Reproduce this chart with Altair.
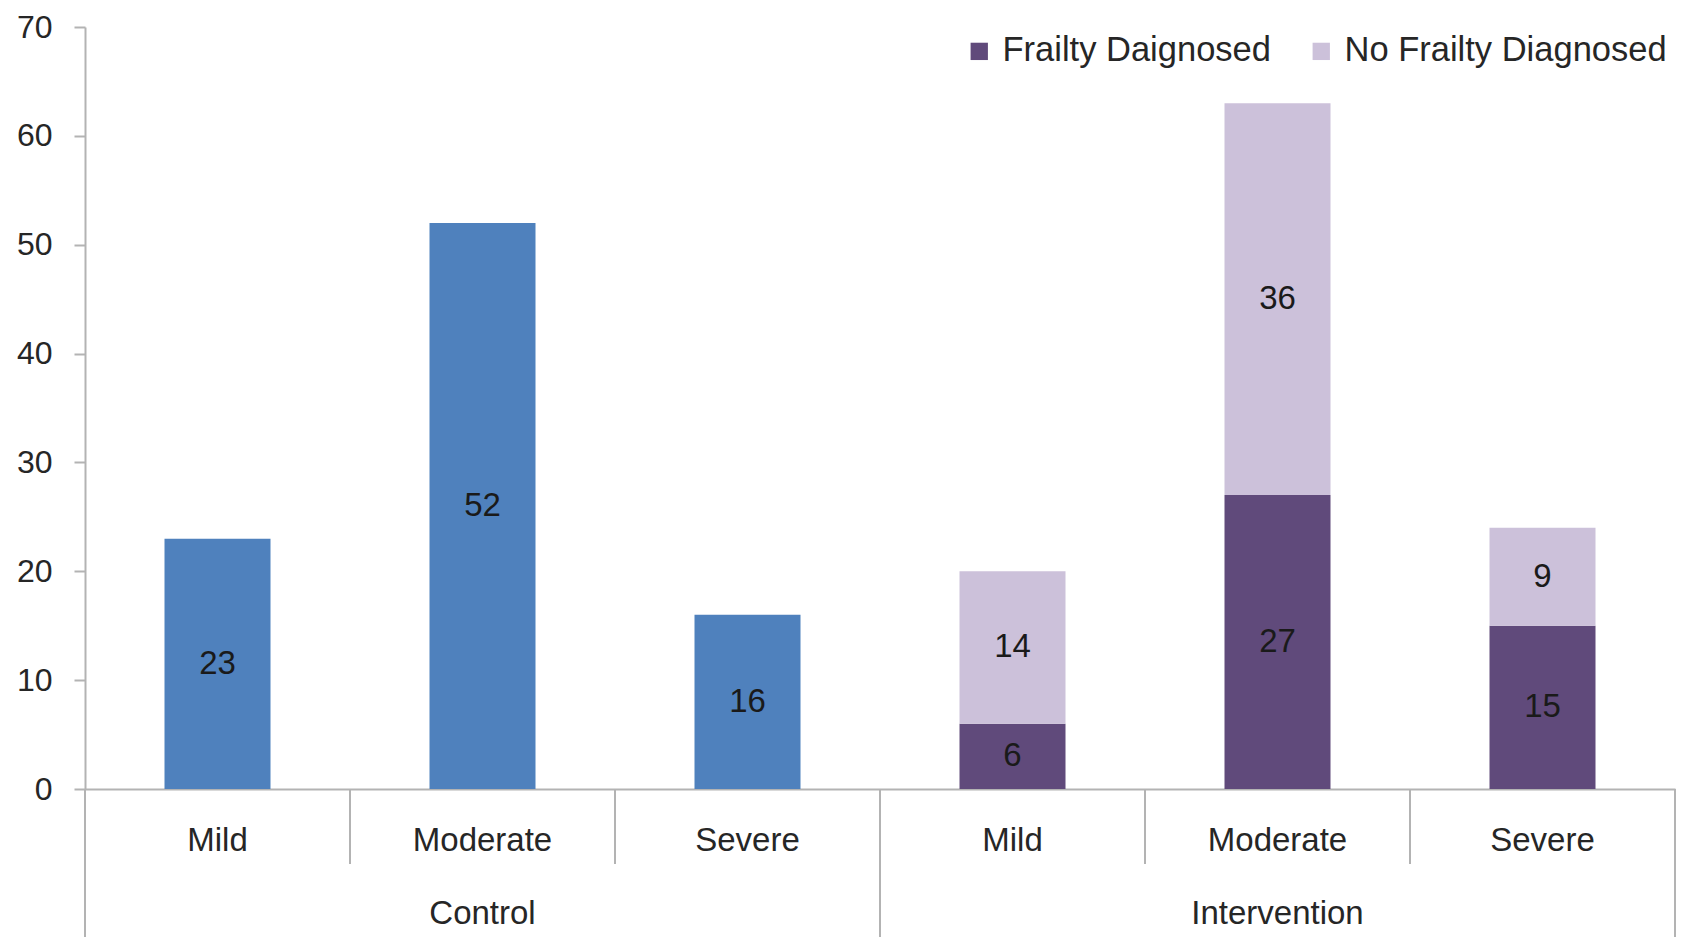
import altair as alt
import pandas as pd

FONT = "Liberation Sans"

groups = ["Control", "Intervention"]
severity = ["Mild", "Moderate", "Severe"]
series_names = ["Frailty Daignosed", "No Frailty Diagnosed"]
control_values = [23, 52, 16]
frailty_values = [6, 27, 15]
no_frailty_values = [14, 36, 9]

rows = []
for s, v in zip(severity, control_values):
    rows.append({"key": f"Control|{s}", "series": "Control", "ord": 0, "value": v})
for s, v in zip(severity, frailty_values):
    rows.append({"key": f"Intervention|{s}", "series": series_names[0], "ord": 0, "value": v})
for s, v in zip(severity, no_frailty_values):
    rows.append({"key": f"Intervention|{s}", "series": series_names[1], "ord": 1, "value": v})
df = pd.DataFrame(rows)

keys = [f"{g}|{s}" for g in groups for s in severity]

W, H = 1590, 762
GREY = "#B3B3B3"
TXT = "#262626"

xscale = alt.Scale(domain=keys, paddingInner=0, paddingOuter=0)
yscale = alt.Scale(domain=[0, 70], nice=False)

x_axis = alt.Axis(title=None, labelExpr="split(datum.value, '|')[1]", ticks=False, tickSize=0,
                  domain=True, domainColor=GREY, domainWidth=2, labelAngle=0, labelFontSize=33,
                  labelPadding=51, labelBaseline="middle", labelColor=TXT, labelFont=FONT, grid=False)
y_axis = alt.Axis(title=None, values=list(range(0, 71, 10)), ticks=True, tickSize=11, tickColor=GREY,
                  tickWidth=2, domainColor=GREY, domainWidth=2, labelFontSize=32, labelPadding=22,
                  labelColor=TXT, labelFont=FONT, grid=False)

color = alt.Color("series:N",
                  scale=alt.Scale(domain=["Control"] + series_names,
                                  range=["#4F81BD", "#604A7B", "#CCC1DA"]),
                  legend=alt.Legend(values=series_names, title=None, orient="none", legendX=877,
                                    legendY=7, direction="horizontal", symbolType="square",
                                    symbolSize=300, symbolStrokeWidth=0, labelFontSize=34.5,
                                    labelFont=FONT, labelColor=TXT, labelLimit=500,
                                    columnPadding=33, labelOffset=6, padding=0))

base = alt.Chart(df).transform_stack(
    stack="value", groupby=["key"], as_=["v0", "v1"], sort=[alt.SortField("ord")]
).transform_calculate(mid="(datum.v0 + datum.v1) / 2")

bars = base.mark_bar(width={"band": 0.4}).encode(
    x=alt.X("key:N", sort=keys, scale=xscale, axis=x_axis),
    y=alt.Y("v0:Q", scale=yscale, axis=y_axis),
    y2="v1:Q",
    color=color,
)

labels = base.mark_text(fontSize=33, font=FONT, color="#1A1A1A", baseline="middle").encode(
    x=alt.X("key:N", sort=keys, scale=xscale),
    y=alt.Y("mid:Q", scale=yscale),
    text="value:Q",
)

short_keys = ["Control|Moderate", "Control|Severe", "Intervention|Moderate", "Intervention|Severe"]
long_keys = ["Control|Mild", "Intervention|Mild"]
end_keys = ["Intervention|Severe"]

short_rules = alt.Chart(pd.DataFrame({"key": short_keys})).mark_rule(color=GREY, strokeWidth=2).encode(
    x=alt.X("key:N", bandPosition=0, scale=xscale), y=alt.value(H), y2=alt.value(H + 75))
long_rules = alt.Chart(pd.DataFrame({"key": long_keys})).mark_rule(color=GREY, strokeWidth=2).encode(
    x=alt.X("key:N", bandPosition=0, scale=xscale), y=alt.value(H), y2=alt.value(H + 160))
end_rules = alt.Chart(pd.DataFrame({"key": end_keys})).mark_rule(color=GREY, strokeWidth=2).encode(
    x=alt.X("key:N", bandPosition=1, scale=xscale), y=alt.value(H), y2=alt.value(H + 160))

group_df = pd.DataFrame({"key": ["Control|Moderate", "Intervention|Moderate"], "group": groups})
group_labels = alt.Chart(group_df).mark_text(fontSize=33, font=FONT, color=TXT, baseline="middle").encode(
    x=alt.X("key:N", scale=xscale), y=alt.value(H + 125), text="group:N")

chart = alt.layer(bars, labels, short_rules, long_rules, end_rules, group_labels).properties(
    width=W, height=H,
    padding={"left": 77, "top": 19, "right": 5, "bottom": 148},
    autosize=alt.AutoSizeParams(type="none"),
).configure_view(stroke=None)

chart.save("out.html", embed_options={"renderer": "svg", "actions": False})
